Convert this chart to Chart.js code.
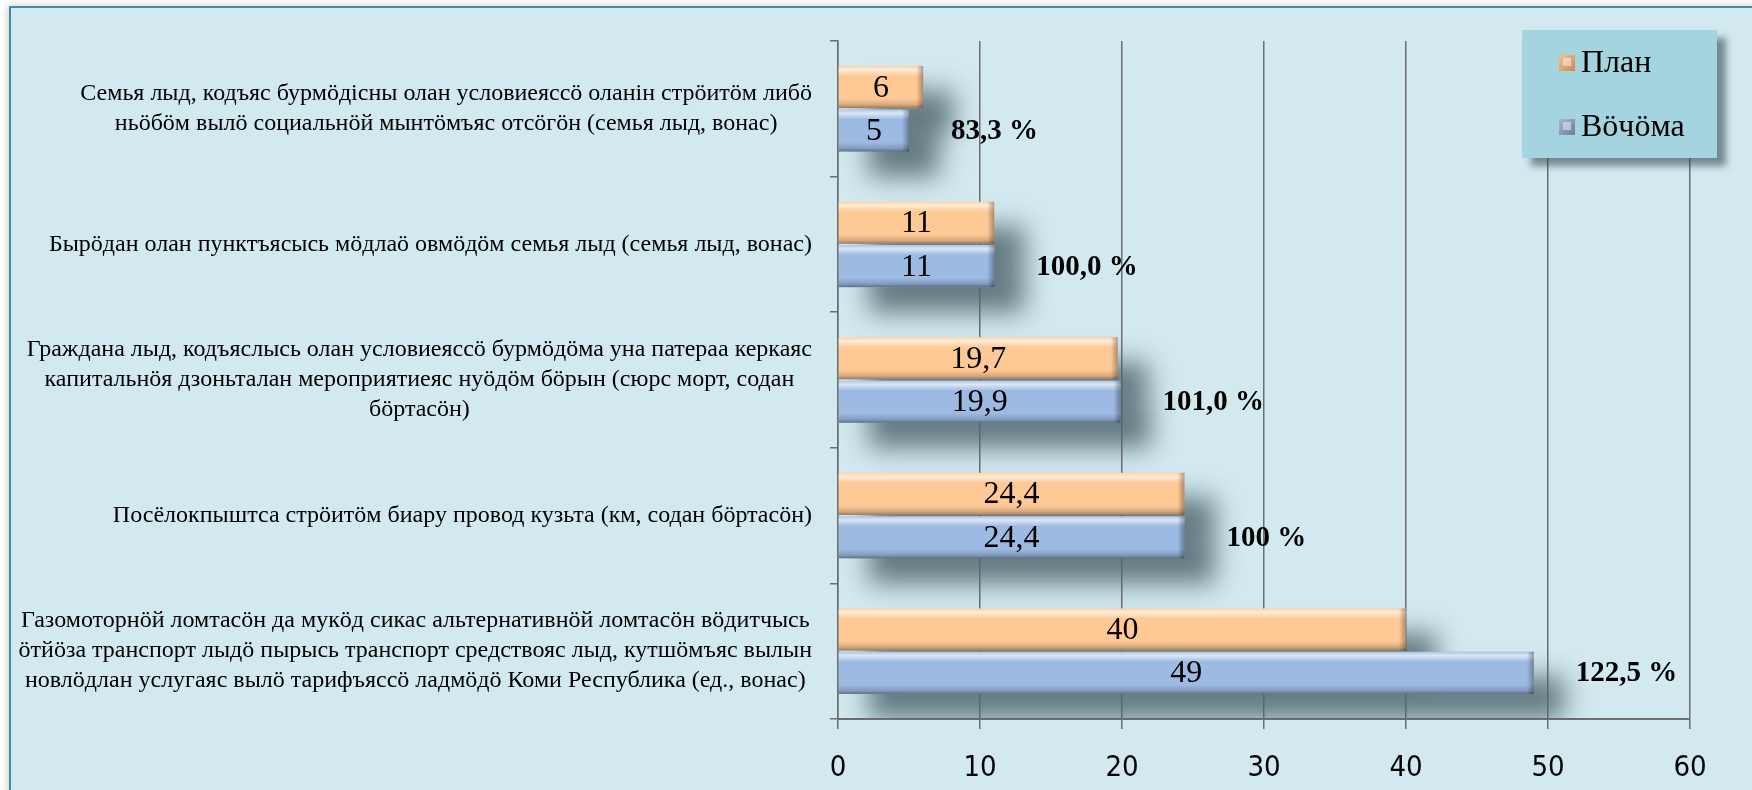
<!DOCTYPE html>
<html lang="ru">
<head>
<meta charset="utf-8">
<title>План и Вӧчӧма</title>
<script src="https://cdn.jsdelivr.net/npm/chart.js@4.4.1/dist/chart.umd.min.js"></script>
<style>
  html, body { margin: 0; padding: 0; background: #fff; }
  canvas { display: block; }
</style>
</head>
<body>
<canvas id="planChart" width="1752" height="790"></canvas>
<script>
// categories, one array of wrapped lines per row (top to bottom)
var categories = [
  ['Семья лыд, кодъяс бурмӧдісны олан условиеяссӧ оланін стрӧитӧм либӧ',
   'ньӧбӧм вылӧ социальнӧй мынтӧмъяс отсӧгӧн (семья лыд, вонас)'],
  ['Бырӧдан олан пунктъясысь мӧдлаӧ овмӧдӧм семья лыд (семья лыд, вонас)'],
  ['Граждана лыд, кодъяслысь олан условиеяссӧ бурмӧдӧма уна патераа керкаяс',
   'капитальнӧя дзоньталан мероприятиеяс нуӧдӧм бӧрын (сюрс морт, содан',
   'бӧртасӧн)'],
  ['Посёлокпыштса стрӧитӧм биару провод кузьта (км, содан бӧртасӧн)'],
  ['Газомоторнӧй ломтасӧн да мукӧд сикас альтернативнӧй ломтасӧн вӧдитчысь',
   'ӧтйӧза транспорт лыдӧ пырысь транспорт средствояс лыд, кутшӧмъяс вылын',
   'новлӧдлан услугаяс вылӧ тарифъяссӧ ладмӧдӧ Коми Республика (ед., вонас)']
];
var seriesNames = ['План', 'Вӧчӧма'];
var planValues = [6, 11, 19.7, 24.4, 40];
var factValues = [5, 11, 19.9, 24.4, 49];
var percentLabels = ['83,3 %', '100,0 %', '101,0 %', '100 %', '122,5 %'];
var xTicks = [0, 10, 20, 30, 40, 50, 60];

var SERIF = "'Liberation Serif', 'Times New Roman', serif";
var GRID = '#6e6e6e';

function fmt(v) {
  return String(v).replace('.', ',');
}

function barBox(bar) {
  var p = bar.getProps(['x', 'y', 'base', 'height'], true);
  return {
    left: Math.min(p.base, p.x),
    right: Math.max(p.base, p.x),
    top: p.y - p.height / 2,
    bottom: p.y + p.height / 2,
    cy: p.y
  };
}

// page frame behind the whole chart
var framePlugin = {
  id: 'frame',
  beforeDraw: function (chart) {
    var ctx = chart.ctx, w = chart.width, h = chart.height;
    ctx.save();
    ctx.fillStyle = '#fff';
    ctx.fillRect(0, 0, w, h);
    ctx.shadowColor = 'rgba(0,0,0,0.22)';
    ctx.shadowBlur = 8;
    ctx.shadowOffsetX = -2;
    ctx.shadowOffsetY = -1;
    ctx.fillStyle = '#D2E9EF';
    ctx.fillRect(10, 7, w, h);
    ctx.restore();
    ctx.save();
    ctx.strokeStyle = '#3D8EA2';
    ctx.lineWidth = 2;
    ctx.strokeRect(10, 7, w, h);
    ctx.restore();
  }
};

// soft drop shadow under the bars
var barShadowPlugin = {
  id: 'barShadow',
  beforeDatasetsDraw: function (chart) {
    var ctx = chart.ctx, area = chart.chartArea, far = 4000;
    ctx.save();
    ctx.beginPath();
    ctx.rect(area.left, area.top, area.right - area.left, area.bottom - area.top);
    ctx.clip();
    ctx.shadowColor = 'rgba(80,102,110,0.85)';
    ctx.shadowBlur = 26;
    ctx.shadowOffsetX = 30 + far;
    ctx.shadowOffsetY = 25;
    ctx.fillStyle = '#000';
    ctx.beginPath();
    chart.data.datasets.forEach(function (ds, di) {
      chart.getDatasetMeta(di).data.forEach(function (bar) {
        var b = barBox(bar);
        ctx.rect(b.left - far, b.top, b.right - b.left, b.bottom - b.top);
      });
    });
    ctx.fill();
    ctx.restore();
  }
};

// bevel on every bar, then the value and percent labels
var barLabelPlugin = {
  id: 'barLabels',
  afterDatasetsDraw: function (chart) {
    var ctx = chart.ctx;
    ctx.save();
    chart.data.datasets.forEach(function (ds, di) {
      chart.getDatasetMeta(di).data.forEach(function (bar, i) {
        var b = barBox(bar), w = b.right - b.left, h = b.bottom - b.top;
        var g = ctx.createLinearGradient(0, b.top, 0, b.bottom);
        g.addColorStop(0, 'rgba(255,255,255,0.15)');
        g.addColorStop(0.09, 'rgba(255,255,255,0.65)');
        g.addColorStop(0.24, 'rgba(255,255,255,0)');
        g.addColorStop(0.78, 'rgba(0,0,0,0)');
        g.addColorStop(0.92, 'rgba(0,0,0,0.16)');
        g.addColorStop(1, 'rgba(0,0,0,0.4)');
        ctx.fillStyle = g;
        ctx.fillRect(b.left, b.top, w, h);
        var gr = ctx.createLinearGradient(b.right - 7, 0, b.right, 0);
        gr.addColorStop(0, 'rgba(0,0,0,0)');
        gr.addColorStop(1, 'rgba(0,0,0,0.32)');
        ctx.fillStyle = gr;
        ctx.fillRect(b.right - 7, b.top, 7, h);

        ctx.fillStyle = '#000';
        ctx.font = '32px ' + SERIF;
        ctx.textAlign = 'center';
        ctx.textBaseline = 'middle';
        ctx.fillText(fmt(ds.data[i]), (b.left + b.right) / 2, b.cy + 1);

        if (di === 1) {
          ctx.font = 'bold 29px ' + SERIF;
          ctx.textAlign = 'left';
          ctx.fillText(percentLabels[i], b.right + 42, b.cy + 1);
        }
      });
    });
    ctx.restore();
  }
};

// wrapped category names: block right-aligned to the axis, lines centred inside it
var categoryLabelPlugin = {
  id: 'categoryLabels',
  afterDraw: function (chart) {
    var ctx = chart.ctx, y = chart.scales.y;
    var right = chart.chartArea.left - 26, lineH = 30;
    ctx.save();
    ctx.font = '24px ' + SERIF;
    ctx.fillStyle = '#000';
    ctx.textAlign = 'center';
    ctx.textBaseline = 'middle';
    categories.forEach(function (lines, i) {
      var cy = y.getPixelForValue(i);
      var widest = Math.max.apply(null, lines.map(function (t) { return ctx.measureText(t).width; }));
      var cx = right - widest / 2;
      lines.forEach(function (t, j) {
        ctx.fillText(t, cx, cy + (j - (lines.length - 1) / 2) * lineH);
      });
    });
    ctx.restore();
  }
};

// legend panel in the upper right corner
var legendBoxPlugin = {
  id: 'legendBox',
  afterDraw: function (chart) {
    var ctx = chart.ctx;
    var x = 1522, y = 30, w = 195, h = 128;
    ctx.save();
    ctx.shadowColor = 'rgba(40,60,70,0.55)';
    ctx.shadowBlur = 7;
    ctx.shadowOffsetX = 9;
    ctx.shadowOffsetY = 8;
    ctx.fillStyle = '#A5D4E1';
    ctx.fillRect(x, y, w, h);
    ctx.restore();

    var marks = [['#F6C08E', '#C98B58'], ['#A8B8D4', '#6B7D9C']];
    ctx.save();
    chart.data.datasets.forEach(function (ds, i) {
      var cy = 63 + i * 64, mx = 1559, s = 16;
      var g = ctx.createLinearGradient(mx, cy - s / 2, mx + s, cy + s / 2);
      g.addColorStop(0, marks[i][0]);
      g.addColorStop(1, marks[i][1]);
      ctx.fillStyle = g;
      ctx.fillRect(mx, cy - s / 2, s, s);
      ctx.fillStyle = 'rgba(255,255,255,0.45)';
      ctx.fillRect(mx + 4, cy - s / 2 + 3, s - 8, s - 8);
      ctx.fillStyle = '#000';
      ctx.font = '32px ' + SERIF;
      ctx.textAlign = 'left';
      ctx.textBaseline = 'middle';
      ctx.fillText(ds.label, 1581, cy + 1);
    });
    ctx.restore();
  }
};

var ctx = document.getElementById('planChart').getContext('2d');
var planChart = new Chart(ctx, {
  type: 'bar',
  data: {
    labels: categories,
    datasets: [{
      label: seriesNames[0],
      data: planValues,
      backgroundColor: '#FFC995'
    }, {
      label: seriesNames[1],
      data: factValues,
      backgroundColor: '#9DBAE3'
    }]
  },
  options: {
    indexAxis: 'y',
    responsive: false,
    animation: false,
    layout: { padding: { top: 41, right: 62, left: 0, bottom: 0 } },
    categoryPercentage: 0.64,
    barPercentage: 0.97,
    plugins: {
      legend: { display: false },
      tooltip: { enabled: false }
    },
    scales: {
      x: {
        min: xTicks[0],
        max: xTicks[xTicks.length - 1],
        afterFit: function (s) { s.height = 71; },
        ticks: {
          stepSize: xTicks[1] - xTicks[0],
          color: '#000',
          padding: 22,
          font: { family: "'Liberation Sans Narrow', 'DejaVu Sans Condensed', sans-serif", size: 29 }
        },
        grid: { color: GRID, lineWidth: 1.5, tickLength: 10 },
        border: { color: GRID, width: 2 }
      },
      y: {
        afterFit: function (s) { s.width = 838; },
        ticks: { display: false },
        grid: { drawOnChartArea: false, color: GRID, lineWidth: 1.5, tickLength: 8, offset: true },
        border: { color: GRID, width: 1.5 }
      }
    }
  },
  plugins: [framePlugin, barShadowPlugin, barLabelPlugin, categoryLabelPlugin, legendBoxPlugin]
});
</script>
</body>
</html>
